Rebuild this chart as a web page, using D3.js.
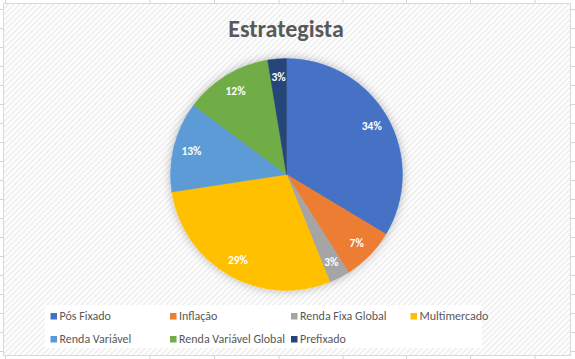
<!DOCTYPE html>
<html><head><meta charset="utf-8">
<script src="https://cdn.jsdelivr.net/npm/d3@7"></script>
<style>html,body{margin:0;padding:0;background:#fff;}svg{display:block;}</style>
</head><body>
<svg id="c" width="575" height="359"></svg>
<script>
const title = "Estrategista";
const categories = ["Pós Fixado","Inflação","Renda Fixa Global","Multimercado","Renda Variável","Renda Variável Global","Prefixado"];
const values = [33.6, 7.4, 2.9, 28.7, 12.6, 12.2, 2.6];
const colors = ["#4472C4","#ED7D31","#A5A5A5","#FFC000","#5B9BD5","#70AD47","#264478"];
const gridCols = [5.5, 150, 214.5, 279, 343, 406.5, 470.5, 535];

const svg = d3.select("#c");
const W = 575, H = 359;
const font = "Carlito, Calibri, Lato, 'Open Sans', sans-serif";

const defs = svg.append("defs");
const pat = defs.append("pattern").attr("id","hatch").attr("patternUnits","userSpaceOnUse")
  .attr("width",4).attr("height",4).attr("patternTransform","rotate(45)");
pat.append("rect").attr("width",4).attr("height",4).attr("fill","#ffffff");
pat.append("rect").attr("x",0).attr("width",1.6).attr("height",4).attr("fill","#ededed");
const f = defs.append("filter").attr("id","glow").attr("x","-30%").attr("y","-30%").attr("width","160%").attr("height","160%");
f.append("feGaussianBlur").attr("in","SourceAlpha").attr("stdDeviation",5).attr("result","b");
f.append("feFlood").attr("flood-color","#000").attr("flood-opacity",0.28).attr("result","c");
f.append("feComposite").attr("in","c").attr("in2","b").attr("operator","in").attr("result","s");
const m = f.append("feMerge"); m.append("feMergeNode").attr("in","s"); m.append("feMergeNode").attr("in","SourceGraphic");

// spreadsheet gridlines
const g0 = svg.append("g").attr("stroke","#d4d4d4").attr("stroke-width",1);
gridCols.forEach(x => g0.append("line").attr("x1",x).attr("x2",x).attr("y1",0).attr("y2",H));
for (let y = 9.5; y < H; y += 19) g0.append("line").attr("x1",0).attr("x2",W).attr("y1",y).attr("y2",y);

// chart area
svg.append("rect").attr("x",3.5).attr("y",3.5).attr("width",567).attr("height",352)
  .attr("fill","url(#hatch)").attr("stroke","#d9d9d9").attr("stroke-width",1);

svg.append("text").attr("x",286).attr("y",36.5).attr("text-anchor","middle")
  .attr("font-family",font).attr("font-weight","bold").attr("font-size",24)
  .attr("fill","#595959").text(title);

const cx = 286.5, cy = 174.5, R = 116;
const pie = d3.pie().sort(null).value(d => d)(values);
const arc = d3.arc().innerRadius(0).outerRadius(R);
const lab = d3.arc().innerRadius(98).outerRadius(98);
const gp = svg.append("g").attr("transform",`translate(${cx},${cy})`);
gp.append("g").attr("filter","url(#glow)").selectAll("path").data(pie).join("path")
  .attr("d",arc).attr("fill",(d,i)=>colors[i]).attr("stroke",(d,i)=>colors[i]).attr("stroke-width",0.5);
gp.selectAll("text").data(pie).join("text")
  .attr("transform",d=>`translate(${lab.centroid(d)})`)
  .attr("text-anchor","middle").attr("dy","0.35em")
  .attr("font-family",font).attr("font-weight","bold").attr("font-size",11.5)
  .attr("fill","#fff").text(d=>Math.round(d.data)+"%");

// legend
svg.append("rect").attr("x",45).attr("y",305).attr("width",437).attr("height",43).attr("fill","#fff");
const colX = [50.5, 170, 291, 410.5];
const lg = svg.append("g");
categories.forEach((c,i) => {
  const x = colX[i % 4], y = 313 + Math.floor(i/4)*23;
  lg.append("rect").attr("x",x).attr("y",y).attr("width",6.5).attr("height",6.5).attr("fill",colors[i]);
  lg.append("text").attr("x",x+9).attr("y",y+7).attr("font-family",font).attr("font-size",12)
    .attr("fill","#595959").text(c);
});
</script>
</body></html>
